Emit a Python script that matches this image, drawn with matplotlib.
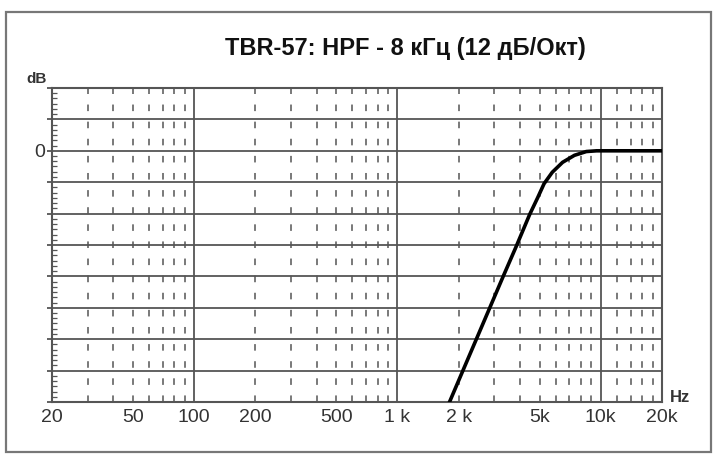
import numpy as np
import matplotlib
matplotlib.use("Agg")
import matplotlib.pyplot as plt
from matplotlib.patches import Rectangle

# АЧХ фильтра
freq = [1794, 2088, 2431, 2830, 3294, 3835, 4465, 4901, 5258, 5773, 6488, 7421, 8491, 9544, 20000]
gain_db = [-24.1, -21.1, -18.1, -15.1, -12.1, -9.15, -6.1, -4.45, -3.15, -2.05, -1.1, -0.43, -0.07, 0.0, 0.0]

# подписи оси X
xticks = [20, 50, 100, 200, 500, 1000, 2000, 5000, 10000, 20000]
xlabels = ["20", "50", "100", "200", "500", "1 k", "2 k", "5k", "10k", "20k"]
# сплошные вертикальные линии
major_vlines = [100, 1000, 10000]
# пунктирные вертикальные линии
minor_vlines = [30, 40, 50, 60, 70, 80, 90,
                200, 300, 400, 500, 600, 700, 800, 900,
                2000, 3000, 4000, 5000, 6000, 7000, 8000, 9000,
                12000, 14000, 16000, 18000]
# уровни по оси Y
yticks = list(range(-24, 7, 3))

plt.rcParams['font.family'] = ['Liberation Sans', 'DejaVu Sans']
grid_c = "#555555"
text_c = "#333333"

fig = plt.figure(figsize=(7.15, 4.54), dpi=100)
ax = fig.add_axes([52/715, 1-402/454, 610/715, 314/454])

# рамка вокруг рисунка
fig.patches.append(Rectangle((6/715, 2/454), 705/715, 440/454, transform=fig.transFigure,
                             fill=False, edgecolor="#777777", linewidth=1.6))

ax.set_xscale("log")
ax.set_xlim(20, 20000)
ax.set_ylim(-24, 6)

for y in yticks:
    ax.axhline(y, color=grid_c, linewidth=1.3, zorder=1)
for x in major_vlines:
    ax.axvline(x, color=grid_c, linewidth=1.3, zorder=1)
for x in minor_vlines:
    ax.axvline(x, color=grid_c, linewidth=1.1, linestyle=(0, (4.3, 6.9)), zorder=1)

ax.plot(freq, gain_db, color="black", linewidth=2.6, solid_capstyle="butt",
        solid_joinstyle="round", zorder=3)

ax.set_xticks(xticks)
ax.set_xticklabels(xlabels)
ax.xaxis.set_minor_locator(matplotlib.ticker.NullLocator())
ax.tick_params(axis="x", length=0, pad=5, labelsize=14, labelcolor=text_c)

ax.set_yticks(yticks)
ax.set_yticklabels(["0" if v == 0 else "" for v in yticks])
ax.set_yticks([v / 2 for v in range(-48, 13) if v % 6 != 0], minor=True)
ax.tick_params(axis="y", which="major", direction="out", length=3.6, width=1.3,
               color=grid_c, pad=1, labelsize=14, labelcolor=text_c)
ax.tick_params(axis="y", which="minor", direction="in", length=3.6, width=0.9, color=grid_c)

for s in ax.spines.values():
    s.set_color(grid_c)
    s.set_linewidth(1.5)

fig.text(405/715, 1-49/454, "TBR-57: HPF - 8 кГц (12 дБ/Окт)", ha="center", va="center",
         fontsize=17, fontweight="bold", color="#111111")
fig.text(37/715, 1-79/454, "dB", ha="center", va="center", fontsize=11, fontweight="bold", color=text_c)
fig.text(680/715, 1-398/454, "Hz", ha="center", va="center", fontsize=12, fontweight="bold", color=text_c)

plt.savefig("out.png", dpi=100)
